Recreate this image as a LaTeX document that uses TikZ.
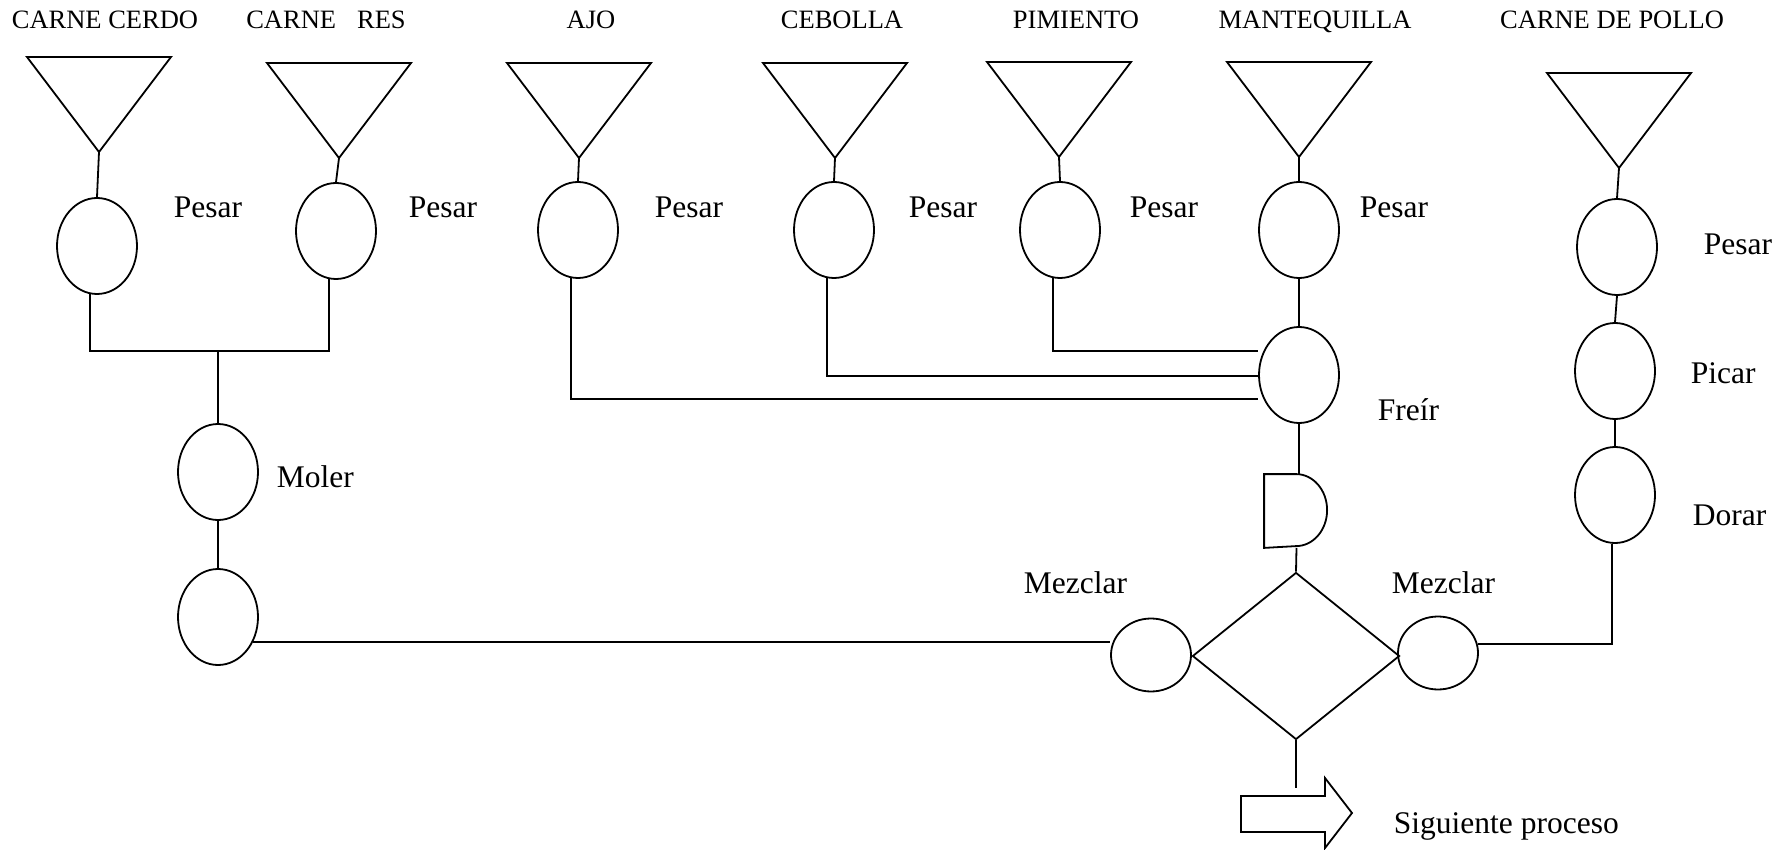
\documentclass[tikz,border=0pt]{standalone}
\usepackage{fontspec}
\setmainfont{Liberation Serif}
\usetikzlibrary{shapes.geometric}
\begin{document}
\begin{tikzpicture}[x=1pt,y=-1pt,line width=1.8pt,
  op/.style={draw,ellipse,inner sep=0pt,minimum width=80pt,minimum height=96pt},
  mix/.style={draw,ellipse,inner sep=0pt,minimum width=80pt,minimum height=73pt},
  head/.style={font=\fontsize{26.5}{30}\selectfont,anchor=base,inner sep=0pt},
  lbl/.style={font=\fontsize{31.5}{36}\selectfont,anchor=base west,inner sep=0pt},
  supply/.pic={\draw (-72,0) -- (72,0) -- (0,95) -- cycle;
               \coordinate (-apex) at (0,95);}
]
\useasboundingbox (0,0) rectangle (1789,850);

% raw materials (headings and storage triangles)
\node[head] (h1) at (105,29)  {CARNE CERDO};
\node[head] (h2) at (326,29)  {CARNE\hspace{21pt}RES};
\node[head] (h3) at (591,29)  {AJO};
\node[head] (h4) at (842,29)  {CEBOLLA};
\node[head] (h5) at (1076,29) {PIMIENTO};
\node[head] (h6) at (1315,29) {MANTEQUILLA};
\node[head] (h7) at (1612,29) {CARNE DE POLLO};

\pic (t1) at (99,57)    {supply};
\pic (t2) at (339,63)   {supply};
\pic (t3) at (579,63)   {supply};
\pic (t4) at (835,63)   {supply};
\pic (t5) at (1059,62)  {supply};
\pic (t6) at (1299,62)  {supply};
\pic (t7) at (1619,73)  {supply};

% weighing operations
\node[op] (e1) at (97,246)   {};
\node[op] (e2) at (336,231)  {};
\node[op] (e3) at (578,230)  {};
\node[op] (e4) at (834,230)  {};
\node[op] (e5) at (1060,230) {};
\node[op] (e6) at (1299,230) {};
\node[op] (p1) at (1617,247) {};

\node[lbl] (l1) at (173,218)  {Pesar};
\node[lbl] (l2) at (408,218)  {Pesar};
\node[lbl] (l3) at (654,218)  {Pesar};
\node[lbl] (l4) at (908,218)  {Pesar};
\node[lbl] (l5) at (1129,218) {Pesar};
\node[lbl] (l6) at (1359,218) {Pesar};
\node[lbl] (l7) at (1703,255) {Pesar};

% further operations
\node[op] (freir)  at (1299,375) {};
\node[op] (moler)  at (218,472)  {};
\node[op] (ground) at (218,617)  {};
\node[op] (picar)  at (1615,371) {};
\node[op] (dorar)  at (1615,495) {};
\node[mix] (mezL)  at (1151,655) {};
\node[mix] (mezR)  at (1438,653) {};

\node[lbl] (lfreir) at (1377,420) {Freír};
\node[lbl] (lmoler) at (276,487)  {Moler};
\node[lbl] (lpicar) at (1690,384) {Picar};
\node[lbl] (ldorar) at (1692,525) {Dorar};
\node[lbl] (lmezL)  at (1023,593) {Mezclar};
\node[lbl] (lmezR)  at (1391,593) {Mezclar};

% delay, inspection diamond and outgoing arrow
\node[inner sep=0pt,minimum width=63pt,minimum height=72pt] (hold) at (1296.5,511) {};
\draw (hold.south west) -- (hold.north west) -- ++(32,0)
      arc[start angle=90,end angle=-90,x radius=31pt,y radius=36pt] -- cycle;
\node[draw,diamond,inner sep=0pt,minimum width=207pt,minimum height=167pt] (mixer) at (1296,656) {};

\draw (1241,796) -- (1325,796) -- (1325,778) -- (1352,813) -- (1325,848)
      -- (1325,832) -- (1241,832) -- cycle;
\coordinate (arrowin) at (1296,788);
\node[lbl] (lnext) at (1393,833) {Siguiente proceso};

% connectors
\coordinate (ymeat) at (0,351);
\coordinate (ypim)  at (0,351);
\coordinate (yceb)  at (0,376);
\coordinate (yajo)  at (0,399);

\foreach \t/\e in {t1/e1,t2/e2,t3/e3,t4/e4,t5/e5,t6/e6,t7/p1}
  \draw (\t-apex) -- (\e.north);

\draw (e1.262) |- (ymeat -| e2.262) -- (e2.262);
\draw (moler.north) -- (moler.north |- ymeat);
\draw (moler.south) -- (ground.north);
\draw (ground.-36) -- (ground.-36 -| mezL.west);

\draw (e5.262) |- (freir.west |- ypim);
\draw (e4.262) |- (freir.west |- yceb);
\draw (e3.262) |- (freir.west |- yajo);
\draw (e6.south) -- (freir.north);
\draw (freir.south) -- (freir.south |- hold.north);
\draw (hold.south) -- (mixer.north);
\draw (mixer.south) -- (arrowin);

\draw (p1.south) -- (picar.north);
\draw (picar.south) -- (dorar.north);
\draw (mezR.13) -| (dorar.266);
\end{tikzpicture}
\end{document}
